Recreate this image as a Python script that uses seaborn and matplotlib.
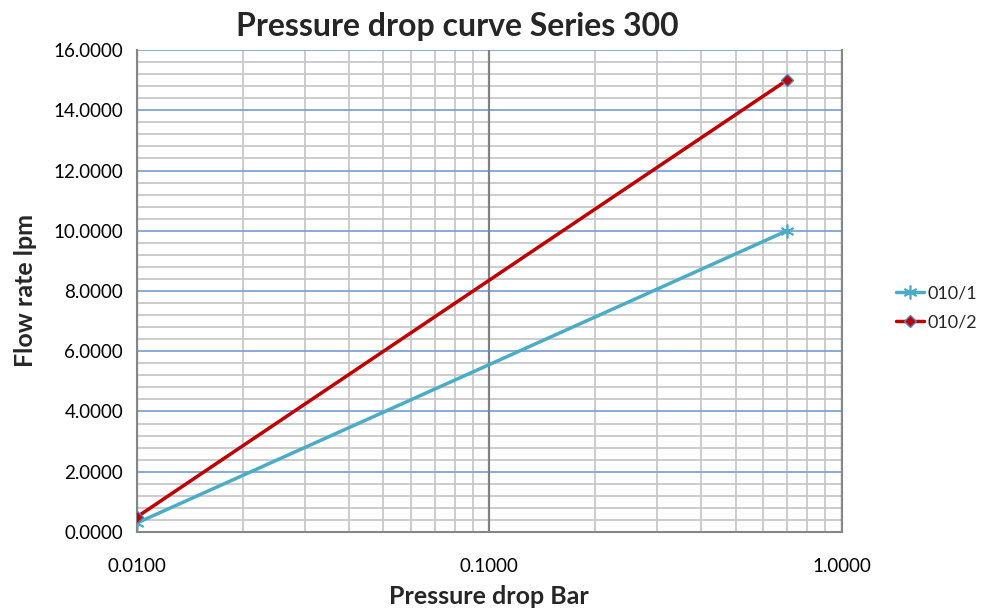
import numpy as np
import pandas as pd
import seaborn as sns
import matplotlib.pyplot as plt
from matplotlib.lines import Line2D
from matplotlib.ticker import LogLocator, FixedLocator, FuncFormatter, MultipleLocator

# Dados
pressure_bar = [0.01, 0.7]
flow_010_1 = [0.3, 10.0]
flow_010_2 = [0.5, 15.0]
series_names = ["010/1", "010/2"]
y_ticks = [0, 2, 4, 6, 8, 10, 12, 14, 16]
x_ticks = [0.01, 0.1, 1.0]

data = pd.DataFrame({
    "pressure": pressure_bar * 2,
    "flow": flow_010_1 + flow_010_2,
    "series": [series_names[0]] * 2 + [series_names[1]] * 2,
})

sns.set_style("white")
plt.rcParams['font.family'] = ['Lato', 'DejaVu Sans']

fig = plt.figure(figsize=(9.82, 6.16), dpi=100)
ax = fig.add_axes([0.1395, 0.1364, 0.7175, 0.7824])

palette = {"010/1": "#4BACC6", "010/2": "#C00000"}
sns.lineplot(data=data, x="pressure", y="flow", hue="series", palette=palette,
             linewidth=2.5, ax=ax, legend=False, zorder=3)

# marcadores
ax.plot(pressure_bar, flow_010_1, linestyle="none", marker=(6, 2, 0), markersize=10,
        color="#4BACC6", markeredgewidth=1.2, zorder=4)
ax.plot(pressure_bar, flow_010_2, linestyle="none", marker="D", markersize=6,
        color="#C00000", markeredgecolor="#4F81BD", markeredgewidth=1, zorder=4)

ax.set_xscale("log")
ax.set_xlim(0.01, 1.0)
ax.set_ylim(0, 16)

ax.xaxis.set_major_locator(FixedLocator(x_ticks))
ax.xaxis.set_minor_locator(LogLocator(base=10, subs=np.arange(2, 10)))
ax.xaxis.set_minor_formatter(FuncFormatter(lambda v, p: ""))
ax.xaxis.set_major_formatter(FuncFormatter(lambda v, p: f"{v:.4f}"))
ax.yaxis.set_major_locator(FixedLocator(y_ticks))
ax.yaxis.set_minor_locator(MultipleLocator(0.4))
ax.yaxis.set_major_formatter(FuncFormatter(lambda v, p: f"{v:.4f}"))

# grades
ax.grid(which="minor", axis="both", color="#C8C8C8", linewidth=1.3, linestyle="-")
ax.grid(which="major", axis="y", color="#7FA3D6", linewidth=1.3, linestyle="-")
ax.set_axisbelow(True)
for xv in x_ticks:
    ax.axvline(xv, color="#808080", linewidth=1.6, zorder=0.8)

for side in ["left", "bottom", "right"]:
    ax.spines[side].set_color("#868686")
    ax.spines[side].set_linewidth(1.5)
ax.spines["top"].set_visible(False)

ax.tick_params(axis="both", which="major", labelsize=13.5, colors="#868686",
               labelcolor="black", length=5, direction="out")
ax.tick_params(axis="x", which="major", pad=14)
ax.tick_params(axis="x", which="minor", length=4, color="#868686", direction="out")
ax.tick_params(axis="y", which="minor", length=0)
ax.tick_params(axis="y", which="major", length=0, pad=10)

ax.set_title("Pressure drop curve Series 300", fontsize=23, fontweight="bold", pad=10,
             x=0.455)
ax.set_xlabel("Pressure drop Bar", fontsize=18, fontweight="bold", labelpad=7)
ax.set_ylabel("Flow rate lpm", fontsize=18, fontweight="bold", labelpad=12)

# legenda
handles = [
    Line2D([0], [0], color="#4BACC6", linewidth=2.5, marker=(6, 2, 0), markersize=10,
           markeredgewidth=1.2),
    Line2D([0], [0], color="#C00000", linewidth=2.5, marker="D", markersize=6,
           markeredgecolor="#4F81BD"),
]
fig.legend(handles, series_names, loc="center left", bbox_to_anchor=(0.912, 0.50),
           frameon=False, fontsize=13, handlelength=1.6, handletextpad=0.15,
           labelspacing=0.75, borderpad=0, borderaxespad=0)

fig.savefig("out.png", dpi=100)
